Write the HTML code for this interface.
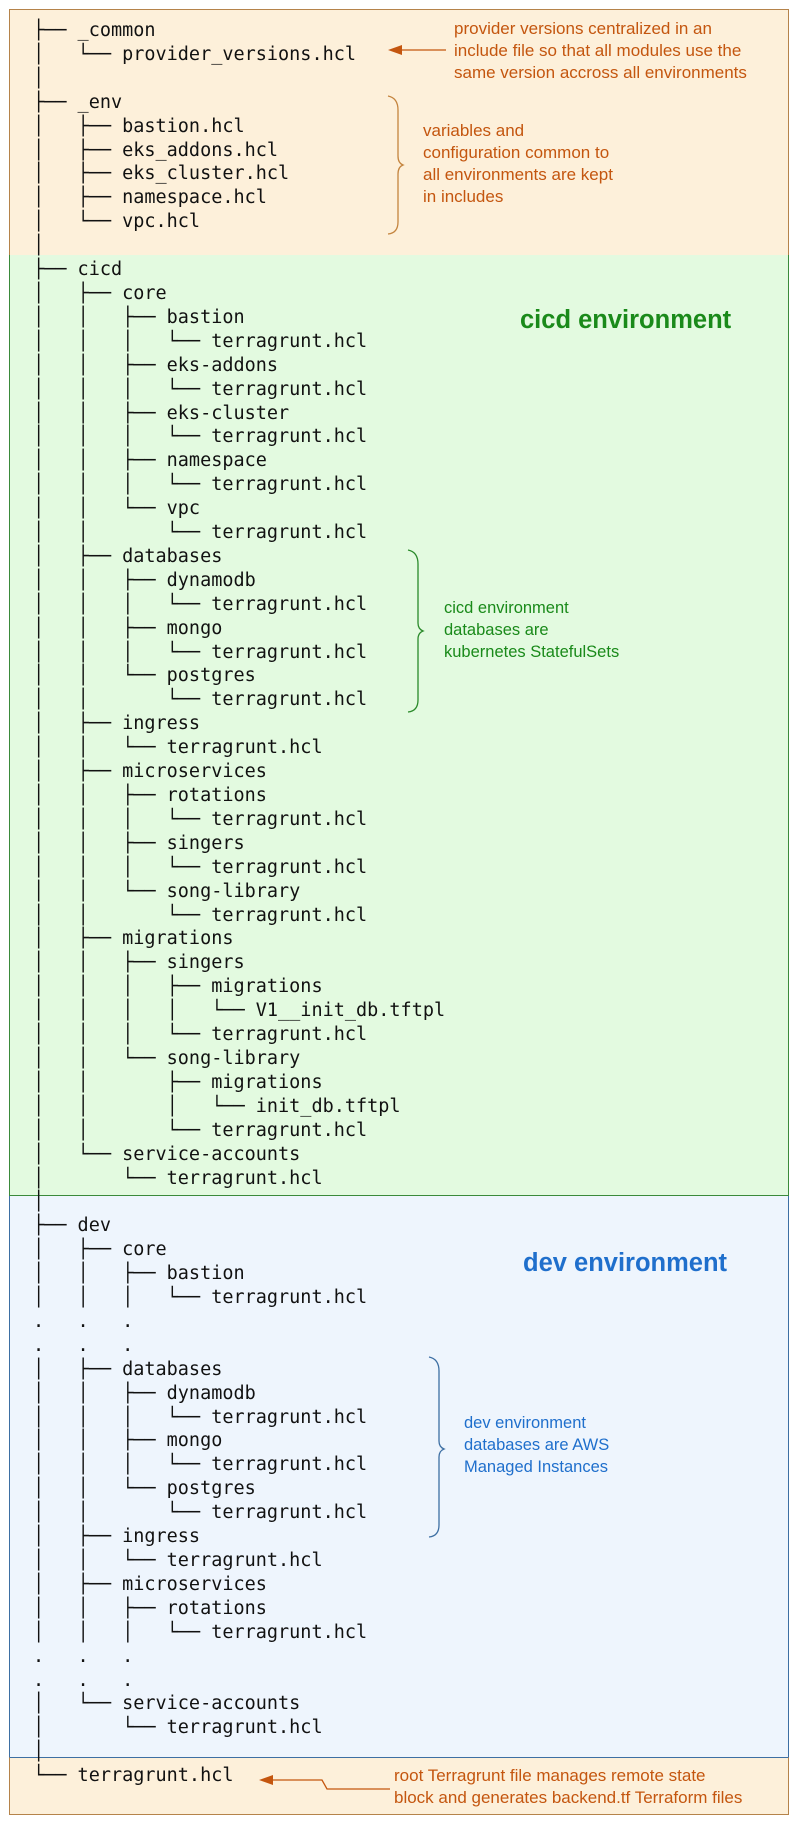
<!DOCTYPE html>
<html><head><meta charset="utf-8"><style>
body{margin:0;width:799px;height:1824px;background:#fff;position:relative;overflow:hidden}
.sec{position:absolute;left:9px;width:780px;box-sizing:border-box}
pre{position:absolute;left:33px;top:19px;margin:0;font-family:"DejaVu Sans Mono","Liberation Mono",monospace;font-size:18.5px;line-height:23.9px;color:#111}
.t{position:absolute;font-family:"Liberation Sans",sans-serif;font-size:17px;line-height:22px;white-space:nowrap}
.o{color:#c4560f}.g{color:#1a8a1a}.b{color:#1f6fcc}
.h{position:absolute;font-family:"Liberation Sans",sans-serif;font-weight:bold;font-size:25.5px;white-space:nowrap}
svg{position:absolute;left:0;top:0}
</style></head><body>
<div class="sec" style="top:9px;height:247px;background:#fdf0da;border:1px solid #b5834a;border-bottom:1px solid #3a8a3a"></div>
<div class="sec" style="top:255px;height:941px;background:#e3fae0;border-left:1px solid #3a8a3a;border-right:1px solid #3a8a3a;border-bottom:1px solid #3a8a3a"></div>
<div class="sec" style="top:1196px;height:562px;background:#eef5fd;border-left:1px solid #3d6fa3;border-right:1px solid #3d6fa3;border-bottom:1px solid #3d6fa3"></div>
<div class="sec" style="top:1757px;height:58px;background:#fdf0da;border:1px solid #b5834a;border-top:1px solid #3d6fa3"></div>
<pre>├── _common
│   └── provider_versions.hcl
│
├── _env
│   ├── bastion.hcl
│   ├── eks_addons.hcl
│   ├── eks_cluster.hcl
│   ├── namespace.hcl
│   └── vpc.hcl
│
├── cicd
│   ├── core
│   │   ├── bastion
│   │   │   └── terragrunt.hcl
│   │   ├── eks-addons
│   │   │   └── terragrunt.hcl
│   │   ├── eks-cluster
│   │   │   └── terragrunt.hcl
│   │   ├── namespace
│   │   │   └── terragrunt.hcl
│   │   └── vpc
│   │       └── terragrunt.hcl
│   ├── databases
│   │   ├── dynamodb
│   │   │   └── terragrunt.hcl
│   │   ├── mongo
│   │   │   └── terragrunt.hcl
│   │   └── postgres
│   │       └── terragrunt.hcl
│   ├── ingress
│   │   └── terragrunt.hcl
│   ├── microservices
│   │   ├── rotations
│   │   │   └── terragrunt.hcl
│   │   ├── singers
│   │   │   └── terragrunt.hcl
│   │   └── song-library
│   │       └── terragrunt.hcl
│   ├── migrations
│   │   ├── singers
│   │   │   ├── migrations
│   │   │   │   └── V1__init_db.tftpl
│   │   │   └── terragrunt.hcl
│   │   └── song-library
│   │       ├── migrations
│   │       │   └── init_db.tftpl
│   │       └── terragrunt.hcl
│   └── service-accounts
│       └── terragrunt.hcl
│
├── dev
│   ├── core
│   │   ├── bastion
│   │   │   └── terragrunt.hcl
.   .   .
.   .   .
│   ├── databases
│   │   ├── dynamodb
│   │   │   └── terragrunt.hcl
│   │   ├── mongo
│   │   │   └── terragrunt.hcl
│   │   └── postgres
│   │       └── terragrunt.hcl
│   ├── ingress
│   │   └── terragrunt.hcl
│   ├── microservices
│   │   ├── rotations
│   │   │   └── terragrunt.hcl
.   .   .
.   .   .
│   └── service-accounts
│       └── terragrunt.hcl
│
└── terragrunt.hcl</pre>
<div class="t o" style="left:454px;top:18px">provider versions centralized in an<br>include file so that all modules use the<br>same version accross all environments</div>
<div class="t o" style="left:423px;top:120px">variables and<br>configuration common to<br>all environments are kept<br>in includes</div>
<div class="h g" style="left:520px;top:306px">cicd environment</div>
<div class="t g" style="left:444px;top:597px;font-size:16.5px">cicd environment<br>databases are<br>kubernetes StatefulSets</div>
<div class="h b" style="left:523px;top:1249px">dev environment</div>
<div class="t b" style="left:464px;top:1412px;font-size:16.5px">dev environment<br>databases are AWS<br>Managed Instances</div>
<div class="t o" style="left:394px;top:1765px">root Terragrunt file manages remote state<br>block and generates backend.tf Terraform files</div>
<svg width="799" height="1824">
<g fill="none" stroke-width="1.3">
<line x1="400" y1="50" x2="446" y2="50" stroke="#c4560f"/>
<path d="M388 96 Q398 98 398 110 L398 156 Q398 163 403 165 Q398 167 398 174 L398 222 Q398 233 388 234" stroke="#c4843e"/>
<path d="M408 550 Q418 552 418 564 L418 623 Q418 629 423 631 Q418 633 418 639 L418 700 Q418 711 408 712" stroke="#2a8a2a"/>
<path d="M429 1357 Q439 1359 439 1371 L439 1441 Q439 1447 444 1449 Q439 1451 439 1457 L439 1525 Q439 1536 429 1537" stroke="#3d6fa3"/>
<path d="M270 1780 L322 1780 L327 1789 L390 1789" stroke="#c4560f"/>
</g>
<polygon points="388,50 402,45 402,55" fill="#c4560f"/>
<polygon points="259,1780 273,1775 273,1785" fill="#c4560f"/>
</svg>
</body></html>
